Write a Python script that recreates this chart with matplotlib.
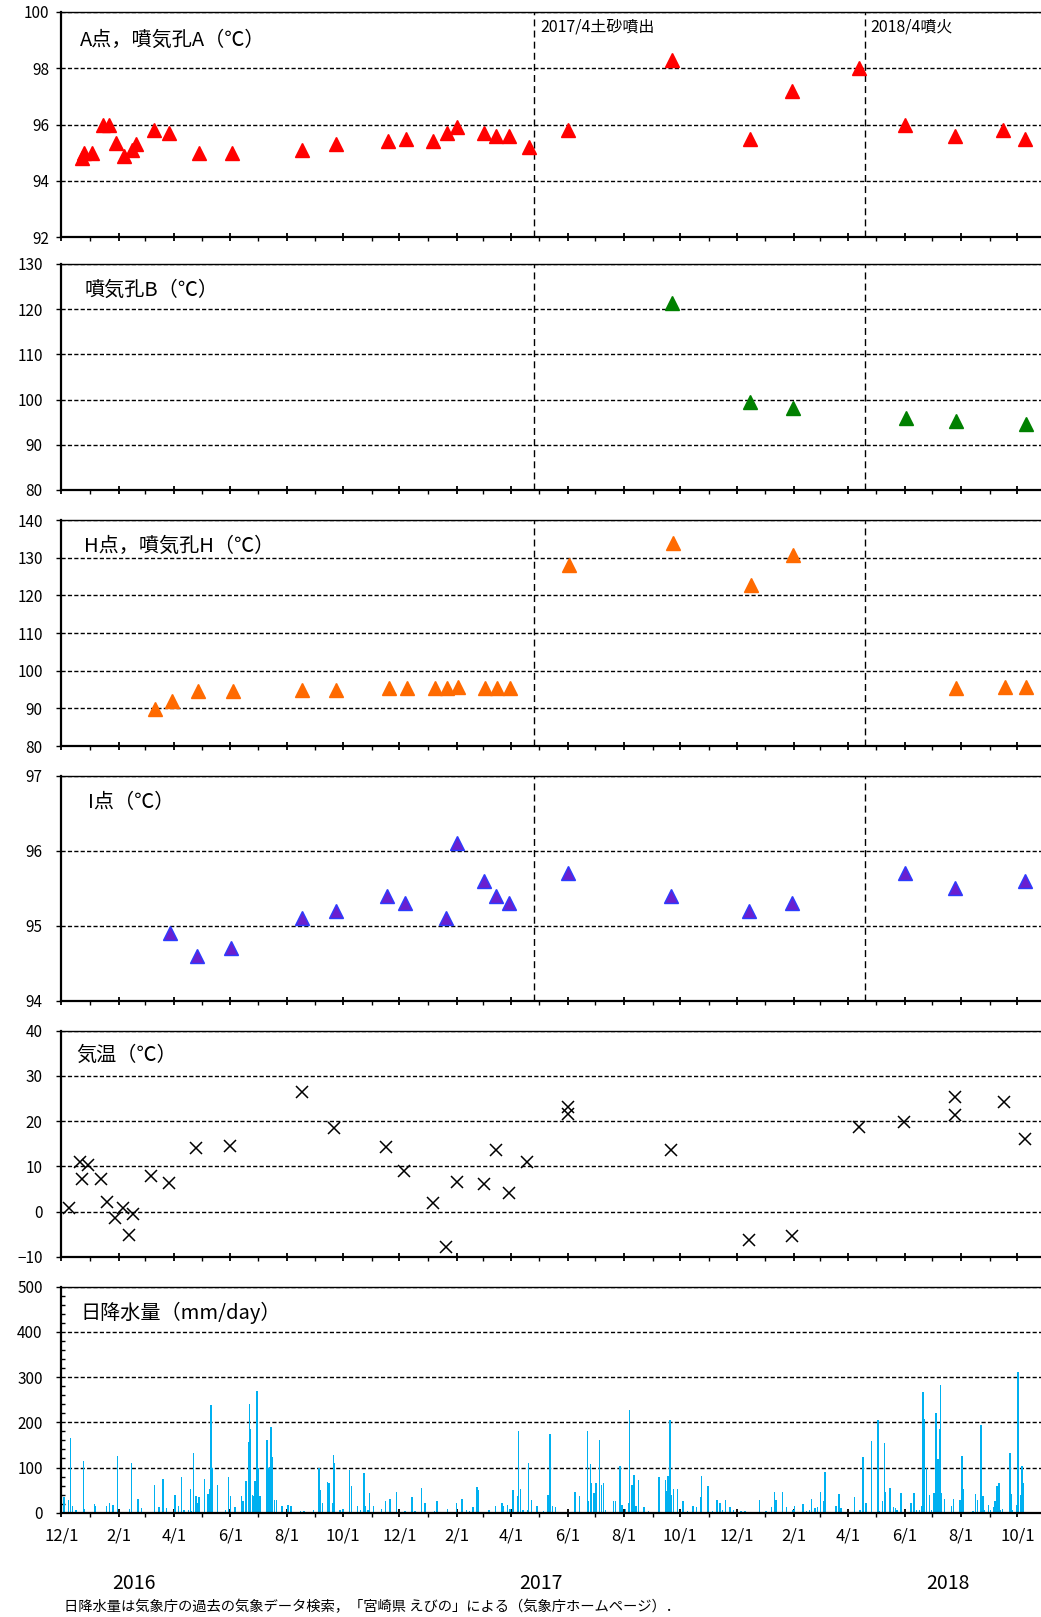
import matplotlib
matplotlib.use('Agg')
import matplotlib.pyplot as plt
import matplotlib.dates as mdates
from matplotlib.ticker import MultipleLocator, FuncFormatter
import pandas as pd

plt.rcParams['font.family'] = ['Noto Sans CJK JP', 'DejaVu Sans']

# ---------------- data ----------------
# A点, 噴気孔A
a_dates = ['2015-12-23', '2015-12-26', '2016-01-03', '2016-01-15', '2016-01-22', '2016-01-29',
           '2016-02-07', '2016-02-15', '2016-02-20', '2016-03-10', '2016-03-27', '2016-04-28',
           '2016-06-03', '2016-08-18', '2016-09-23', '2016-11-19', '2016-12-08', '2017-01-06',
           '2017-01-21', '2017-02-01', '2017-03-02', '2017-03-15', '2017-03-30', '2017-04-20',
           '2017-06-01', '2017-09-22', '2017-12-15', '2018-01-30', '2018-04-12', '2018-06-01',
           '2018-07-25', '2018-09-15', '2018-10-09']
a_vals = [94.8, 95.0, 95.0, 96.0, 96.0, 95.35, 94.9, 95.1, 95.3, 95.8, 95.7, 95.0,
          95.0, 95.1, 95.3, 95.4, 95.5, 95.4, 95.7, 95.9, 95.7, 95.6, 95.6, 95.2,
          95.8, 98.3, 95.5, 97.2, 98.0, 96.0, 95.6, 95.8, 95.5]

# 噴気孔B
b_dates = ['2017-09-22', '2017-12-16', '2018-01-31', '2018-06-02', '2018-07-26', '2018-10-10']
b_vals = [121.3, 99.5, 98.1, 96.0, 95.3, 94.5]

# H点, 噴気孔H
h_dates = ['2016-03-11', '2016-03-30', '2016-04-27', '2016-06-04', '2016-08-18', '2016-09-23',
           '2016-11-20', '2016-12-09', '2017-01-08', '2017-01-21', '2017-02-02', '2017-03-04',
           '2017-03-17', '2017-03-31', '2017-06-02', '2017-09-23', '2017-12-17', '2018-01-31',
           '2018-07-26', '2018-09-17', '2018-10-10']
h_vals = [89.7, 92.0, 94.6, 94.6, 94.9, 94.9, 95.3, 95.3, 95.3, 95.3, 95.7, 95.3,
          95.3, 95.3, 128.0, 134.0, 122.7, 130.7, 95.3, 95.7, 95.7]

# I点
i_dates = ['2016-03-28', '2016-04-26', '2016-06-02', '2016-08-18', '2016-09-23', '2016-11-17',
           '2016-12-07', '2017-01-20', '2017-02-01', '2017-03-02', '2017-03-16', '2017-03-30',
           '2017-06-01', '2017-09-21', '2017-12-14', '2018-01-30', '2018-06-01', '2018-07-25',
           '2018-10-09']
i_vals = [94.9, 94.6, 94.7, 95.1, 95.2, 95.4, 95.3, 95.1, 96.1, 95.6, 95.4, 95.3,
          95.7, 95.4, 95.2, 95.3, 95.7, 95.5, 95.6]

# 気温
t_dates = ['2015-12-09', '2015-12-21', '2015-12-23', '2015-12-30', '2016-01-13', '2016-01-19',
           '2016-01-28', '2016-02-06', '2016-02-12', '2016-02-16', '2016-03-07', '2016-03-27',
           '2016-04-25', '2016-06-01', '2016-08-17', '2016-09-21', '2016-11-16', '2016-12-06',
           '2017-01-06', '2017-01-20', '2017-02-01', '2017-03-02', '2017-03-16', '2017-03-30',
           '2017-04-18', '2017-06-01', '2017-06-01', '2017-09-21', '2017-12-14', '2018-01-30',
           '2018-04-12', '2018-05-31', '2018-07-25', '2018-07-25', '2018-09-16', '2018-10-09']
t_vals = [0.7, 11.0, 7.3, 10.3, 7.3, 2.2, -1.5, 0.7, -5.2, -0.5, 7.9, 6.2,
          14.0, 14.5, 26.5, 18.4, 14.3, 9.0, 1.9, -7.8, 6.5, 6.0, 13.5, 4.2,
          11.0, 23.2, 21.6, 13.5, -6.2, -5.4, 18.6, 19.7, 25.4, 21.3, 24.3, 16.0]

# 日降水量 (days since 2015-12-01, mm/day)
rain_day = [2, 7, 9, 11, 15, 23, 24, 35, 36, 42, 48, 51, 55, 60, 73, 75, 82, 86, 91, 100,
            105, 109, 113, 122, 126, 129, 132, 137, 139, 140, 142, 145, 146, 148, 154, 158, 160, 161, 162, 168,
            177, 180, 182, 187, 190, 194, 196, 199, 202, 203, 204, 206, 207, 209, 211, 212, 213, 215, 222, 223,
            224, 225, 226, 227, 230, 232, 238, 244, 245, 247, 248, 258, 262, 272, 278, 279, 282, 287, 289, 293,
            294, 295, 301, 304, 311, 313, 320, 323, 327, 328, 331, 333, 337, 346, 350, 355, 362, 371, 379, 382,
            389, 393, 403, 406, 417, 427, 433, 438, 441, 445, 449, 450, 462, 469, 476, 478, 482, 485, 488, 493,
            494, 496, 499, 504, 505, 508, 514, 521, 526, 528, 531, 534, 555, 560, 569, 570, 572, 573, 576, 578,
            582, 584, 586, 588, 597, 599, 604, 606, 610, 613, 614, 617, 619, 621, 624, 630, 635, 646, 653, 654,
            656, 658, 659, 662, 666, 672, 677, 683, 687, 691, 692, 699, 700, 704, 709, 712, 715, 718, 723, 727,
            735, 739, 755, 762, 768, 771, 773, 780, 784, 791, 793, 802, 806, 809, 811, 815, 818, 821, 824, 826,
            838, 841, 843, 858, 864, 867, 870, 876, 883, 885, 888, 890, 891, 896, 900, 902, 904, 908, 919, 922,
            925, 928, 931, 932, 933, 936, 939, 941, 944, 946, 948, 949, 950, 951, 952, 955, 963, 965, 972, 974,
            975, 976, 986, 989, 991, 995, 997, 998, 1003, 1005, 1008, 1010, 1012, 1014, 1016, 1018, 1026, 1027, 1029, 1033,
            1034, 1035, 1038, 1039, 1040, 1044, 1049, 1053]
rain_mm = [34, 28, 165, 15, 7, 114, 9, 19, 14, 2, 14, 21, 17, 126, 9, 110, 31, 11, 2, 62,
           13, 75, 11, 40, 15, 79, 5, 6, 52, 4, 133, 37, 22, 34, 75, 41, 52, 239, 100, 62,
           7, 79, 37, 13, 2, 37, 25, 70, 157, 240, 185, 40, 37, 70, 270, 100, 37, 37, 161, 94,
           100, 101, 190, 124, 28, 28, 15, 16, 16, 15, 15, 3, 3, 7, 100, 51, 21, 69, 65, 21,
           127, 110, 6, 9, 95, 60, 15, 5, 88, 15, 5, 43, 15, 9, 25, 31, 46, 4, 35, 4,
           54, 22, 4, 25, 9, 21, 31, 6, 4, 13, 56, 51, 7, 15, 21, 15, 17, 9, 51, 37,
           181, 52, 7, 7, 110, 28, 15, 4, 40, 175, 15, 13, 46, 37, 180, 26, 107, 66, 43, 66,
           161, 62, 66, 7, 25, 25, 103, 17, 9, 21, 227, 62, 84, 15, 73, 13, 4, 79, 73, 49,
           81, 204, 40, 52, 52, 25, 4, 15, 13, 34, 81, 58, 37, 4, 28, 22, 7, 28, 13, 6,
           4, 4, 28, 4, 13, 46, 28, 46, 13, 7, 15, 19, 3, 6, 31, 10, 13, 46, 25, 91,
           15, 41, 11, 35, 6, 123, 21, 159, 206, 4, 25, 155, 46, 54, 13, 11, 7, 43, 22, 43,
           6, 6, 15, 268, 207, 100, 40, 7, 43, 220, 118, 100, 185, 282, 43, 31, 15, 30, 28, 126,
           52, 11, 4, 41, 28, 193, 37, 7, 17, 6, 13, 25, 60, 66, 7, 9, 133, 41, 6, 17,
           35, 312, 40, 103, 66, 2, 2, 2]

event_dates = ['2017-04-26', '2018-04-19']
event_labels = ['2017/4土砂噴出', '2018/4噴火']

# ---------------- layout ----------------
W, H = 1041, 1617
fig = plt.figure(figsize=(W / 100, H / 100), dpi=100)


def box(top, bottom, left=61.4, right=1041):
    return [left / W, 1 - bottom / H, (right - left) / W, (bottom - top) / H]


x0 = pd.Timestamp('2015-12-01')
x1 = pd.Timestamp('2018-10-26 12:00')
grid_dash = (0, (3, 1.6))
ev_dash = (0, (5, 3))


def setup(ax, ylim, ystep, show_x=False, ypad=10):
    ax.set_xlim(x0, x1)
    ax.set_ylim(*ylim)
    ax.yaxis.set_major_locator(MultipleLocator(ystep))
    ax.xaxis.set_major_locator(mdates.MonthLocator(bymonth=[12, 2, 4, 6, 8, 10]))
    ax.xaxis.set_minor_locator(mdates.MonthLocator())
    ax.xaxis.set_major_formatter(FuncFormatter(lambda v, p: '%d/1' % mdates.num2date(v).month))
    ax.tick_params(axis='x', which='major', direction='inout', length=6, width=1.3,
                   labelbottom=show_x, labelsize=12, pad=8)
    ax.tick_params(axis='x', which='minor', direction='out', length=3, width=1)
    ax.tick_params(axis='y', which='major', direction='out', length=3.5, width=1,
                   labelsize=11, pad=ypad)
    ax.yaxis.grid(True, linestyle=grid_dash, color='black', linewidth=1.0)
    ax.set_axisbelow(True)
    ax.spines['right'].set_visible(False)
    ax.spines['top'].set_linewidth(1.0)
    ax.spines['left'].set_linewidth(1.6)
    ax.spines['bottom'].set_linewidth(1.6)


def events(ax):
    for d in event_dates:
        ax.axvline(pd.Timestamp(d), color='black', linestyle=ev_dash, linewidth=1.0)


def title(ax, text, x_px, y_px):
    fig.text(x_px / W, 1 - y_px / H, text, fontsize=14.5, ha='left', va='center')


# Panel 1: A
ax1 = fig.add_axes(box(11.8, 237.3))
setup(ax1, (92, 100), 2, ypad=5)
events(ax1)
ax1.plot(pd.to_datetime(a_dates), a_vals, linestyle='none', marker='^',
         markersize=10, color='#FF0000')
title(ax1, 'A点，噴気孔A（℃）', 80, 40)
for d, lab in zip(event_dates, event_labels):
    ax1.annotate(lab, xy=(pd.Timestamp(d), 100), xytext=(4, -11), textcoords='offset points',
                 fontsize=11.5, ha='left', va='center')

# Panel 2: B
ax2 = fig.add_axes(box(264, 490))
setup(ax2, (80, 130), 10)
events(ax2)
ax2.plot(pd.to_datetime(b_dates), b_vals, linestyle='none', marker='^',
         markersize=10, color='#008000')
title(ax2, '噴気孔B（℃）', 84, 290)

# Panel 3: H
ax3 = fig.add_axes(box(520, 746))
setup(ax3, (80, 140), 10)
events(ax3)
ax3.plot(pd.to_datetime(h_dates), h_vals, linestyle='none', marker='^',
         markersize=10, color='#FF6A00')
title(ax3, 'H点，噴気孔H（℃）', 84, 546)

# Panel 4: I
ax4 = fig.add_axes(box(775.7, 1001))
setup(ax4, (94, 97), 1)
events(ax4)
ax4.plot(pd.to_datetime(i_dates), i_vals, linestyle='none', marker='^',
         markersize=10, markerfacecolor='#6A1FCF', markeredgecolor='#2A3CFF', markeredgewidth=1)
title(ax4, 'I点（℃）', 88, 803)

# Panel 5: 気温
ax5 = fig.add_axes(box(1030.7, 1256.7))
setup(ax5, (-10, 40), 10)
ax5.plot(pd.to_datetime(t_dates), t_vals, linestyle='none', marker='x',
         markersize=9, markeredgewidth=1.1, color='black')
title(ax5, '気温（℃）', 76, 1055)

# Panel 6: 日降水量
ax6 = fig.add_axes(box(1286.7, 1512.7))
setup(ax6, (0, 500), 100, show_x=True)
rain_dates = x0 + pd.to_timedelta(rain_day, unit='D')
ax6.bar(rain_dates, rain_mm, width=1.6, color='#00B0F0', linewidth=0, align='edge')
ax6.yaxis.set_minor_locator(MultipleLocator(20))
ax6.tick_params(axis='y', which='minor', direction='in', length=3, width=1)
title(ax6, '日降水量（mm/day）', 80, 1313)

# year labels and note
for yr, xp in [('2016', 134), ('2017', 541), ('2018', 948)]:
    fig.text(xp / W, 1 - 1583 / H, yr, fontsize=14, ha='center', va='center')
fig.text(64 / W, 1 - 1607 / H,
         '日降水量は気象庁の過去の気象データ検索，「宮崎県 えびの」による（気象庁ホームページ）．',
         fontsize=10.3, ha='left', va='center')

fig.savefig('out.png', dpi=100)
